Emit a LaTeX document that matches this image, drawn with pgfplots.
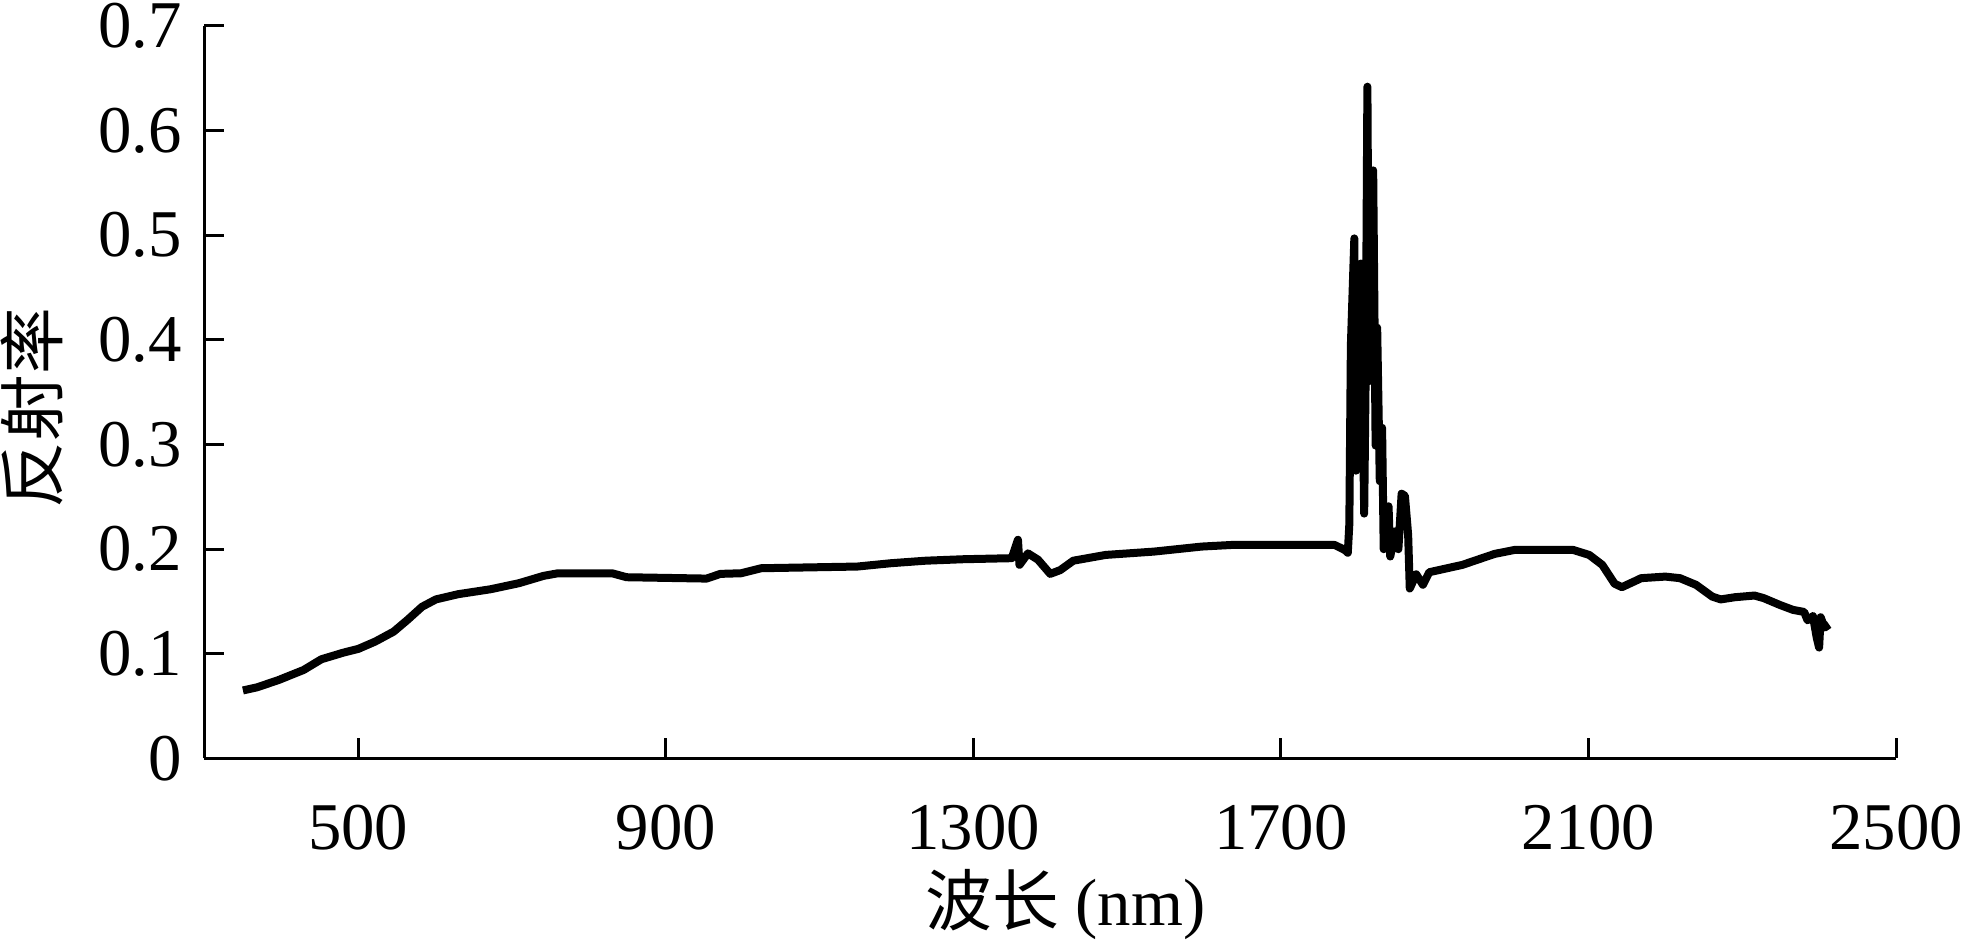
\documentclass[border=0pt]{standalone}
\usepackage{fontspec}
\setmainfont{Liberation Serif}
\newfontfamily\cjk{Noto Sans CJK SC}
\usepackage{pgfplots}
\pgfplotsset{compat=1.18}

% spectrum: wavelength (nm), reflectance
\pgfplotstableread{
x y
350 0.065
368.5 0.068
396.5 0.075
429 0.0846
452 0.0948
480 0.101
500 0.1047
522 0.1117
546 0.1212
564 0.1324
583 0.145
601 0.152
630 0.157
672 0.1617
709 0.1675
741 0.1745
760 0.177
830 0.177
849 0.1732
953 0.1719
971 0.1764
998 0.177
1024 0.1818
1149 0.1834
1193 0.1866
1238 0.189
1287 0.1904
1350 0.1914
1358 0.209
1360 0.185
1371 0.196
1384 0.190
1400 0.1764
1413 0.180
1430 0.189
1472 0.1945
1535 0.1977
1597 0.2025
1635 0.204
1770 0.204
1783 0.1993
1787 0.1966
1789 0.2239
1791 0.3946
1795.5 0.497
1797.6 0.275
1804 0.473
1808.3 0.234
1810.4 0.3775
1812.5 0.642
1814.6 0.3605
1820 0.562
1823.2 0.299
1825.2 0.4117
1828.6 0.265
1831.6 0.316
1833.7 0.200
1840 0.241
1842.2 0.193
1848.6 0.217
1852.8 0.200
1857 0.253
1861.3 0.251
1865.5 0.2137
1867.6 0.1624
1876 0.176
1884.7 0.166
1893 0.178
1936 0.185
1978 0.1955
2004 0.1993
2080 0.1993
2101 0.1945
2118 0.185
2134 0.167
2143.5 0.1637
2162 0.170
2168.5 0.1723
2200 0.1738
2219 0.1723
2240 0.1659
2261 0.1547
2272 0.152
2290.5 0.1541
2316 0.1557
2328 0.1532
2349 0.1467
2366 0.142
2380.5 0.140
2385 0.132
2392 0.136
2397 0.115
2400 0.106
2402 0.135
2407 0.125
2413 0.128
}\spectrum

\begin{document}
\fontsize{19}{23}\selectfont
\begin{tikzpicture}
  \begin{axis}[
      name=ax,
      scale only axis,
      width=169.15mm, height=73.25mm,
      xmin=300, xmax=2500, ymin=0, ymax=0.7,
      axis x line=bottom, axis y line=left,
      axis line style={-, line width=0.35mm},
      tick align=inside, major tick length=2mm,
      tick style={line width=0.3mm, black},
      xtick={500,900,1300,1700,2100,2500},
      xticklabels={500,900,1300,1700,2100,2500},
      ytick={0,0.1,0.2,0.3,0.4,0.5,0.6,0.7},
      yticklabels={0,0.1,0.2,0.3,0.4,0.5,0.6,0.7},
      ticklabel style={font=\fontsize{19}{23}\selectfont},
      xticklabel style={yshift=-2.4mm},
      label style={font=\fontsize{19}{23}\selectfont},
      xlabel={{\cjk 波长} (nm)},
      ylabel={\cjk 反射率},
      xlabel style={at={(axis description cs:0.509,-0.2)}, anchor=center},
      ylabel style={at={(axis description cs:-0.1017,0.478)}, anchor=center},
    ]
    \addplot[black, line width=0.8mm, line join=round] table[x=x, y=y] {\spectrum};
  \end{axis}
  \pgfresetboundingbox
  \path ([shift={(-20.45mm,-18.25mm)}]ax.south west) rectangle ([shift={(6.9mm,2.6mm)}]ax.north east);
\end{tikzpicture}
\end{document}
